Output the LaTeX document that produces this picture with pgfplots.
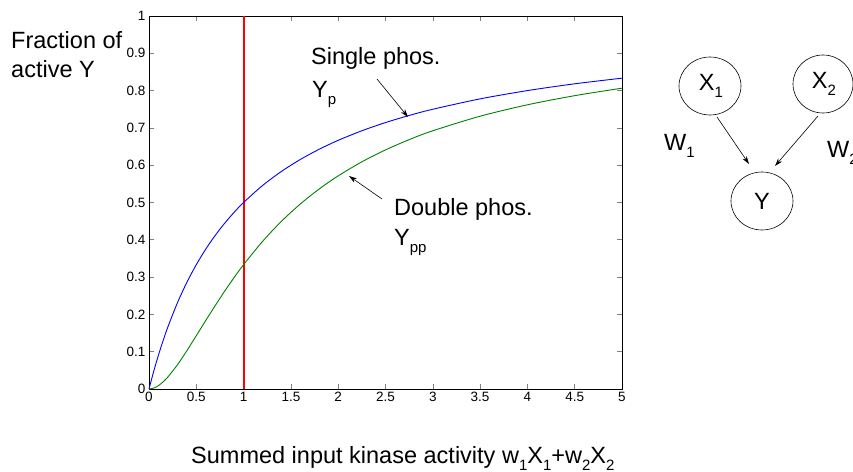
\documentclass[border=0pt]{standalone}
\usepackage{pgfplots}
\pgfplotsset{compat=1.18}
\usepackage{fontspec}
\setmainfont{Liberation Sans}
\usetikzlibrary{arrows.meta}

\newcommand\sub[1]{\raisebox{-0.3em}{\fontsize{15bp}{15bp}\selectfont #1}}
\newcommand\bigtext{\fontsize{23.5bp}{28bp}\selectfont}
\definecolor{mred}{RGB}{255,0,0}

\begin{document}
\begin{tikzpicture}
\useasboundingbox (0,0) rectangle (853bp,472bp);
\begin{axis}[
  at={(149bp,83bp)}, anchor=south west,
  scale only axis, width=473bp, height=373bp,
  xmin=0, xmax=5, ymin=0, ymax=1,
  xtick={0,0.5,...,5}, ytick={0,0.1,...,1},
  tick align=inside, major tick length=5bp,
  axis line style={line width=0.8bp},
  major tick style={line width=0.6bp},
  tick label style={font=\fontsize{13.5bp}{16bp}\selectfont},
  /pgf/number format/assume math mode=true,
  clip=false,
]
% input threshold
\addplot[mred, line width=2.2bp] table {
x y
1 0
1 1
};
% single phosphorylation
\addplot[color=blue, line width=0.9bp, smooth] coordinates {
  (0,0)(0.05,0.0476)(0.1,0.0909)(0.15,0.1304)(0.2,0.1667)(0.3,0.2308)
  (0.4,0.2857)(0.5,0.3333)(0.6,0.375)(0.7,0.4118)(0.8,0.4444)(0.9,0.4737)
  (1.0,0.5)(1.2,0.5455)(1.4,0.5833)(1.6,0.6154)(1.8,0.6429)(2.0,0.6667)
  (2.25,0.6923)(2.5,0.7143)(2.75,0.7333)(3.0,0.75)(3.5,0.7778)(4.0,0.8)
  (4.5,0.8182)(5.0,0.8333)
};
% double phosphorylation
\addplot[color=green!50!black, line width=0.9bp, smooth] coordinates {
  (0,0)(0.05,0.0024)(0.1,0.009)(0.15,0.0192)(0.2,0.0323)(0.3,0.0647)
  (0.4,0.1026)(0.5,0.1429)(0.6,0.1837)(0.7,0.2237)(0.8,0.2623)(0.9,0.2989)
  (1.0,0.3333)(1.2,0.3956)(1.4,0.4495)(1.6,0.4961)(1.8,0.5364)(2.0,0.5714)
  (2.25,0.609)(2.5,0.641)(2.75,0.6685)(3.0,0.6923)(3.5,0.7313)(4.0,0.7619)
  (4.5,0.7864)(5.0,0.8065)
};
\end{axis}

\begin{scope}[x=1bp, y=1bp, font=\bigtext, inner sep=0pt]
  % axis labels
  \node[anchor=base west] at (11,423) {Fraction of};
  \node[anchor=base west] at (11,394) {active Y};
  \node[anchor=base west] at (191,9) {Summed input kinase activity w\sub{1}X\sub{1}+w\sub{2}X\sub{2}};
  % annotations
  \node[anchor=base west] at (311,407) {Single phos.};
  \node[anchor=base west] at (312,375) {Y\sub{p}};
  \draw[line width=0.6bp, -{Stealth[length=8bp,width=5bp]}] (377,393) -- (408,355);
  \node[anchor=base west] at (394,257) {Double phos.};
  \node[anchor=base west] at (394,227) {Y\sub{pp}};
  \draw[line width=0.6bp, -{Stealth[length=8bp,width=5bp]}] (382,273) -- (349,296);
  % network diagram
  \draw[line width=0.6bp] (710,386) ellipse (31 and 29);
  \draw[line width=0.6bp] (823,388) ellipse (30 and 29);
  \draw[line width=0.6bp] (762,271) ellipse (31 and 29);
  \node at (711,386) {X\sub{1}};
  \node at (824,388) {X\sub{2}};
  \node at (762,271) {Y};
  \draw[line width=0.6bp, -{Stealth[length=8bp,width=5bp]}] (717,355) -- (749,308);
  \draw[line width=0.6bp, -{Stealth[length=8bp,width=5bp]}] (818,356) -- (775,306);
  \node[anchor=base west] at (664,322) {W\sub{1}};
  \node[anchor=base west] at (827,315) {W\sub{2}};
\end{scope}
\end{tikzpicture}
\end{document}
